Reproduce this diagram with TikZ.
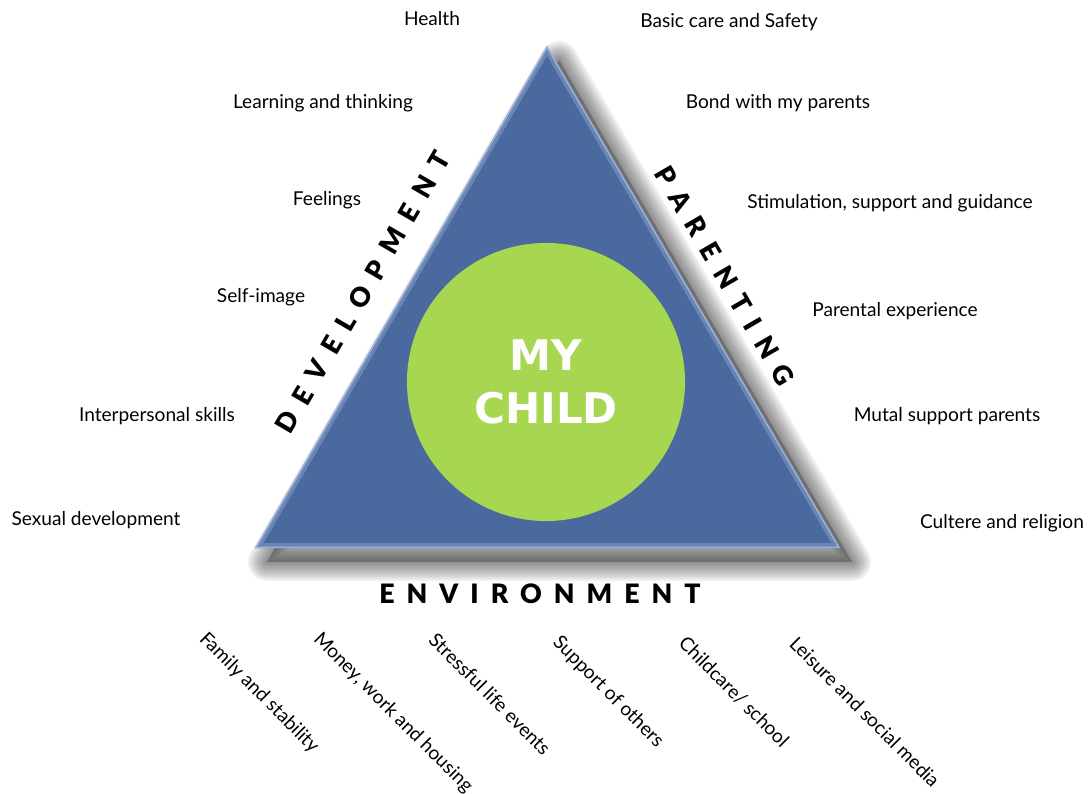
\documentclass[tikz,border=0pt]{standalone}
\usepackage{fontspec}
\setmainfont{Lato}
\newfontfamily\heavyfont{DejaVu Sans}
\newfontfamily\spacedfont[LetterSpace=45]{Lato Black}
\definecolor{triblue}{HTML}{4A699E}
\definecolor{triedge}{HTML}{9DB2D8}
\definecolor{childgreen}{HTML}{A7D651}

\begin{document}
\begin{tikzpicture}[x=0.025cm,y=-0.025cm,
		item/.style={font=\fontsize{13.6}{16}\selectfont, inner sep=0pt},
		tilted/.style={item, rotate=-45},
		side/.style={font=\spacedfont\fontsize{19}{22}\selectfont, inner sep=0pt}]
		\useasboundingbox (0,0) rectangle (1091,794);

		\coordinate (top) at (547,46);
		\coordinate (left) at (255,548);
		\coordinate (right) at (840,548);

		% soft shadow
		\fill[black, opacity=0.25]
			([shift={(12,14)}]top) -- ([shift={(12,14)}]left) -- ([shift={(12,14)}]right) -- cycle;
		\foreach \w in {3,6,...,27}
			\draw[black, opacity=0.06, line width=\w pt, line join=round]
				([shift={(12,14)}]top) -- ([shift={(12,14)}]left) -- ([shift={(12,14)}]right) -- cycle;

		\fill[triblue] (top) -- (left) -- (right) -- cycle;
		\begin{scope}
			\clip (top) -- (left) -- (right) -- cycle;
			\draw[triedge, opacity=0.4, line width=7pt] (top) -- (left) -- (right) -- cycle;
			\draw[triedge, line width=2pt] (top) -- (left) -- (right) -- cycle;
		\end{scope}

		\node (child) [circle, fill=childgreen, minimum size=6.95cm, inner sep=0pt,
			text=white, align=center, font=\heavyfont\bfseries\fontsize{30}{38}\selectfont] at (546,382) {MY\\CHILD};

		\node (dev) [side, rotate=59.8] at (363,292) {DEVELOPMENT};
		\node (par) [side, rotate=-59.8] at (725,276) {PARENTING};
		\node (env) [side] at (540,594) {ENVIRONMENT};

		\node (health) [item] at (432,19) {Health};
		\node (learn) [item] at (323,103) {Learning and thinking};
		\node (feel) [item] at (327,200) {Feelings};
		\node (self) [item] at (261,297) {Self-image};
		\node (inter) [item] at (157,416) {Interpersonal skills};
		\node (sex) [item] at (96,520) {Sexual development};

		\node (care) [item] at (729,22) {Basic care and Safety};
		\node (bond) [item] at (778,103) {Bond with my parents};
		\node (stim) [item] at (890,203) {Stimulation, support and guidance};
		\node (exp) [item] at (895,311) {Parental experience};
		\node (mutal) [item] at (947,416) {Mutal support parents};
		\node (cult) [item] at (1002,523) {Cultere and religion};

		\node (family) [tilted] at (259,693) {Family and stability};
		\node (money) [tilted] at (393,713) {Money, work and housing};
		\node (stress) [tilted] at (490,694) {Stressful life events};
		\node (support) [tilted] at (608,692) {Support of others};
		\node (school) [tilted] at (734,692) {Childcare/ school};
		\node (leisure) [tilted] at (865,712) {Leisure and social media};
	\end{tikzpicture}
\end{document}
